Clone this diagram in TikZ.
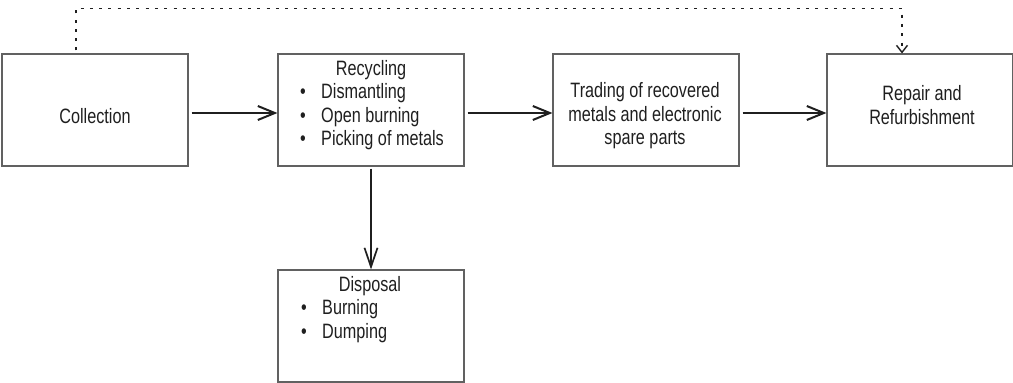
\documentclass[tikz,border=0pt]{standalone}
\usepackage{fontspec}
\setmainfont{Liberation Sans}[FakeStretch=0.78]
\usetikzlibrary{arrows.meta}
\begin{document}
\begin{tikzpicture}[x=1pt,y=-1pt,
  box/.style={draw=black!62,line width=1.1pt,rectangle,minimum width=186pt,minimum height=112pt,inner sep=0pt},
  txt/.style={text=black!88,inner sep=0pt,font=\fontsize{20.8}{23.5}\selectfont},
  flow/.style={draw=black!88,line width=2.4pt,-{Straight Barb[length=17pt,width=14pt,line width=2pt]}},
  down/.style={draw=black!88,line width=1.7pt,-{Straight Barb[length=19pt,width=13pt,line width=1.7pt]}},
  loop/.style={draw=black!88,line width=1.6pt,dash pattern=on 3pt off 6.3pt,-{Straight Barb[length=7pt,width=11pt,line width=1.4pt]}}]
\useasboundingbox (0,0) rectangle (1013,383);
\node[box] (coll) at (95,110) {};
\node[box] (rec) at (371,110) {};
\node[box] (trad) at (646,110) {};
\node[box] (rep) at (920,110) {};
\node[box] (disp) at (371,326) {};
% texts
\node[txt] (tcoll) at (95,116) {Collection};
\node[txt] (trec) at (371,70) {Recycling};
\node[txt,anchor=west,align=left] (lrec) at (300,117) {\makebox[21pt][l]{•}Dismantling\\\makebox[21pt][l]{•}Open burning\\\makebox[21pt][l]{•}Picking of metals};
\node[txt,align=center] (ttrad) at (645,116) {Trading of recovered\\metals and electronic\\spare parts};
\node[txt,align=center] (trep) at (922,105) {Repair and\\Refurbishment};
\node[txt] (tdisp) at (370,286) {Disposal};
\node[txt,anchor=west,align=left] (ldisp) at (301,321) {\makebox[21pt][l]{•}Burning\\\makebox[21pt][l]{•}Dumping};
% connectors
\draw[flow,shorten <=3pt] ([yshift=-3pt]coll.east) -- ([yshift=-3pt]rec.west);
\draw[flow,shorten <=3pt] ([yshift=-3pt]rec.east) -- ([yshift=-3pt]trad.west);
\draw[flow,shorten <=3pt] ([yshift=-3pt]trad.east) -- ([yshift=-3pt]rep.west);
\draw[down,shorten <=2pt] (rec.south) -- (disp.north);
\draw[loop,shorten <=3pt] ([xshift=-19pt]coll.north) -- ++(0,-45) -| ([xshift=-18pt]rep.north);
\end{tikzpicture}
\end{document}
